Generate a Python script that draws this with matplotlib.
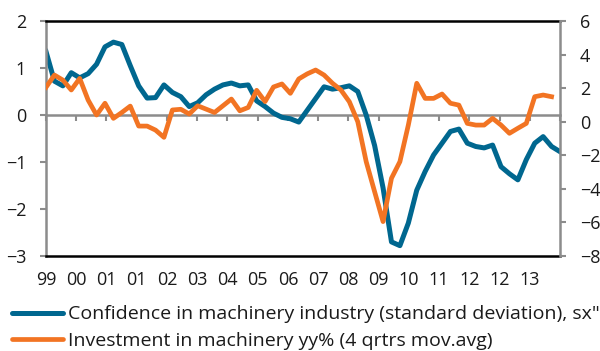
import matplotlib.pyplot as plt
import numpy as np

plt.rcParams['font.family'] = ['Open Sans', 'DejaVu Sans']

# quarterly observations, 1999 onwards
confidence = [1.35, 0.72, 0.62, 0.90, 0.79, 0.88, 1.08, 1.45, 1.55, 1.50,
              1.05, 0.62, 0.36, 0.37, 0.64, 0.48, 0.39, 0.18, 0.26, 0.43,
              0.55, 0.64, 0.68, 0.62, 0.64, 0.30, 0.18, 0.04, -0.05, -0.08,
              -0.15, 0.10, 0.35, 0.60, 0.55, 0.58, 0.62, 0.50, 0.00, -0.65,
              -1.55, -2.70, -2.78, -2.30, -1.60, -1.20, -0.85, -0.60, -0.35, -0.30,
              -0.60, -0.67, -0.70, -0.64, -1.10, -1.25, -1.38, -0.95, -0.60, -0.46,
              -0.67, -0.78]
investment = [2.05, 2.78, 2.48, 1.89, 2.58, 1.29, 0.40, 1.10, 0.20, 0.55,
              0.93, -0.26, -0.26, -0.50, -0.93, 0.70, 0.74, 0.46, 0.95, 0.75,
              0.55, 0.95, 1.35, 0.65, 0.85, 1.87, 1.20, 2.07, 2.25, 1.69,
              2.55, 2.85, 3.08, 2.78, 2.29, 1.89, 1.19, 0.00, -2.38, -4.17,
              -5.95, -3.37, -2.38, -0.20, 2.29, 1.39, 1.39, 1.65, 1.10, 0.99,
              -0.10, -0.20, -0.20, 0.20, -0.20, -0.69, -0.39, -0.10, 1.49, 1.59,
              1.49]
year_labels = ["99", "00", "01", "01", "02", "03", "04", "05", "06",
               "07", "08", "09", "10", "11", "12", "12", "13"]

label_conf = 'Confidence in machinery industry (standard deviation), sx"'
label_inv = "Investment in machinery yy% (4 qrtrs mov.avg)"

blue = "#00678F"
orange = "#F27423"
grey = "#8c8c8c"
txt = "#1a1a1a"

q = np.arange(len(confidence))
inv = np.full(len(confidence), np.nan)
inv[:len(investment)] = investment

fig = plt.figure(figsize=(6, 3.51), dpi=100)
ax = fig.add_axes([46/600, 1 - 256/351, 514/600, 235/351])
ax2 = ax.twinx()

ax.plot(q, confidence, color=blue, lw=3.6, solid_joinstyle="round", label=label_conf)
ax2.plot(q, inv, color=orange, lw=3.4, solid_joinstyle="round", label=label_inv)

ax.set_xlim(0, len(q) - 1)
ax.set_ylim(-3, 2)
ax2.set_ylim(-8, 6)
ax.set_yticks(np.arange(-3, 3, 1))
ax2.set_yticks(np.arange(-8, 7, 2))

# category ticks: marks hang from the zero line, labels sit under the plot
cat_ticks = np.linspace(0, len(q) - 1, len(year_labels) + 1)
ax.set_xticks(cat_ticks[:len(year_labels)])
ax.set_xticklabels(year_labels)
ax.tick_params(axis="x", length=0, pad=11, labelsize=13, labelcolor=txt)
ax.tick_params(axis="y", length=4.3, width=1.5, color=grey, pad=10,
               labelsize=13, labelcolor=txt)
ax2.tick_params(axis="y", length=4.3, width=1.5, color=grey, pad=10,
                labelsize=13, labelcolor=txt)

zero = ax.secondary_xaxis(0.6)
zero.set_alignment("bottom")
zero.set_xticks(cat_ticks)
zero.tick_params(axis="x", length=4.3, width=1.5, color=grey, labelbottom=False)
zero.spines["bottom"].set_color(grey)
zero.spines["bottom"].set_linewidth(1.8)

for s in ["top", "bottom"]:
    ax.spines[s].set_color("black")
    ax.spines[s].set_linewidth(1.8)
ax.spines["left"].set_color(grey)
ax.spines["left"].set_linewidth(1.8)
ax.spines["right"].set_visible(False)
for s in ["top", "bottom", "left"]:
    ax2.spines[s].set_visible(False)
ax2.spines["right"].set_color(grey)
ax2.spines["right"].set_linewidth(1.8)

h1, l1 = ax.get_legend_handles_labels()
h2, l2 = ax2.get_legend_handles_labels()
leg = fig.legend(h1 + h2, l1 + l2, loc="upper left", bbox_to_anchor=(12/600, 0.13),
                 frameon=False, fontsize=14, handlelength=2.6, handletextpad=0.3,
                 labelspacing=0.42, borderaxespad=0, borderpad=0)
for t in leg.get_texts():
    t.set_color(txt)
for h in leg.get_lines():
    h.set_solid_capstyle("round")

fig.savefig("out.png", dpi=100)
